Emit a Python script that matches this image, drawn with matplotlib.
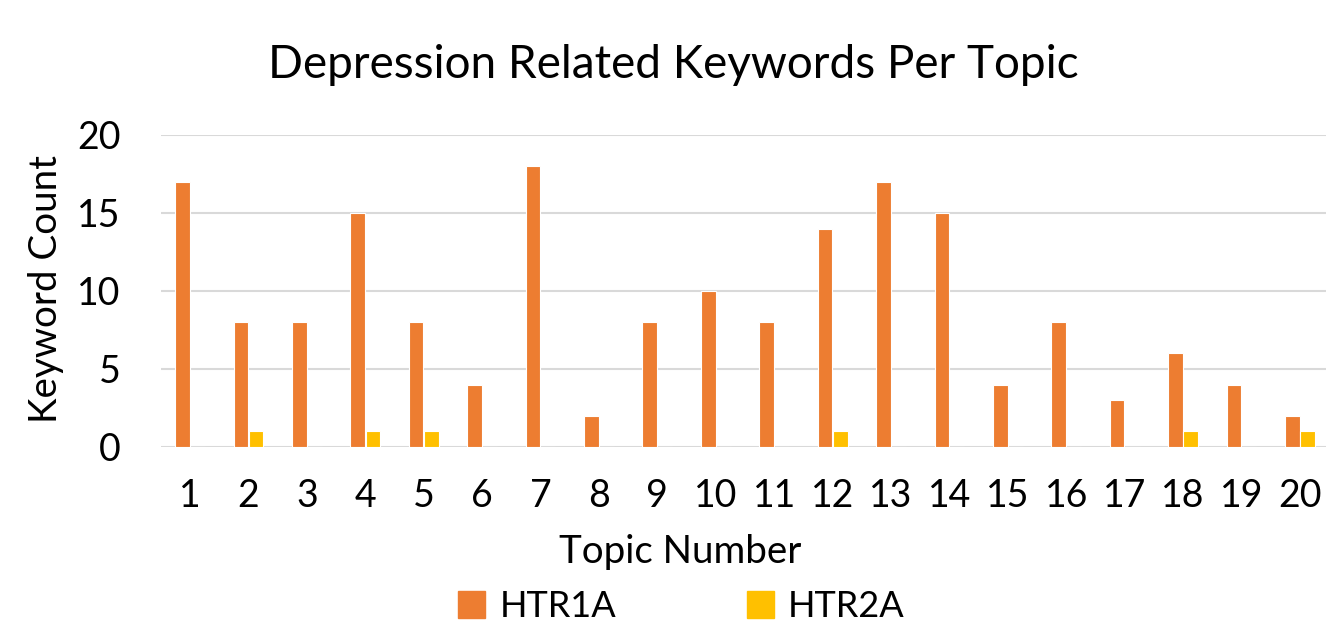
import numpy as np
import matplotlib
matplotlib.use("Agg")
import matplotlib.pyplot as plt
from matplotlib.patches import Patch

# data
topics = [str(i) for i in range(1, 21)]
htr1a = [17, 8, 8, 15, 8, 4, 18, 2, 8, 10, 8, 14, 17, 15, 4, 8, 3, 6, 4, 2]
htr2a = [0, 1, 0, 1, 1, 0, 0, 0, 0, 0, 0, 1, 0, 0, 0, 0, 0, 1, 0, 1]
y_ticks = [0, 5, 10, 15, 20]

orange = '#ED7D31'
yellow = '#FFC000'
plt.rcParams['font.family'] = ['Lato', 'DejaVu Sans']

fig = plt.figure(figsize=(13.26, 6.22), dpi=100)
ax = fig.add_axes([0.1213, 0.2814, 0.8811, 0.5016])

x = np.arange(len(topics))
w = 0.25
ax.bar(x - 0.13, htr1a, w, color=orange, edgecolor='white', linewidth=0.8, zorder=3)
ax.bar(x + 0.13, htr2a, w, color=yellow, edgecolor='white', linewidth=0.8, zorder=3)

ax.set_xlim(-0.5, 19.5)
ax.set_ylim(0, 20)
ax.set_yticks(y_ticks)
ax.set_xticks(x)
ax.set_xticklabels(topics)
ax.tick_params(axis='both', length=0, labelsize=27)
ax.tick_params(axis='x', pad=22)
ax.tick_params(axis='y', pad=29)
ax.grid(axis='y', color='#d9d9d9', linewidth=1.5, zorder=0)
for s in ax.spines.values():
    s.set_visible(False)

fig.text(0.508, 0.895, 'Depression Related Keywords Per Topic', ha='center', va='center', fontsize=33)
fig.text(0.513, 0.113, 'Topic Number', ha='center', va='center', fontsize=27.7)
fig.text(0.0347, 0.535, 'Keyword Count', ha='center', va='center', rotation=90, fontsize=27.7)

handles = [Patch(color=orange, label='HTR1A'), Patch(color=yellow, label='HTR2A')]
fig.legend(handles=handles, loc='center', bbox_to_anchor=(0.514, 0.025), ncol=2, frameon=False,
           fontsize=26, handlelength=0.75, handleheight=0.75, handletextpad=0.4, columnspacing=3.6)

fig.savefig('out.png', dpi=100)
